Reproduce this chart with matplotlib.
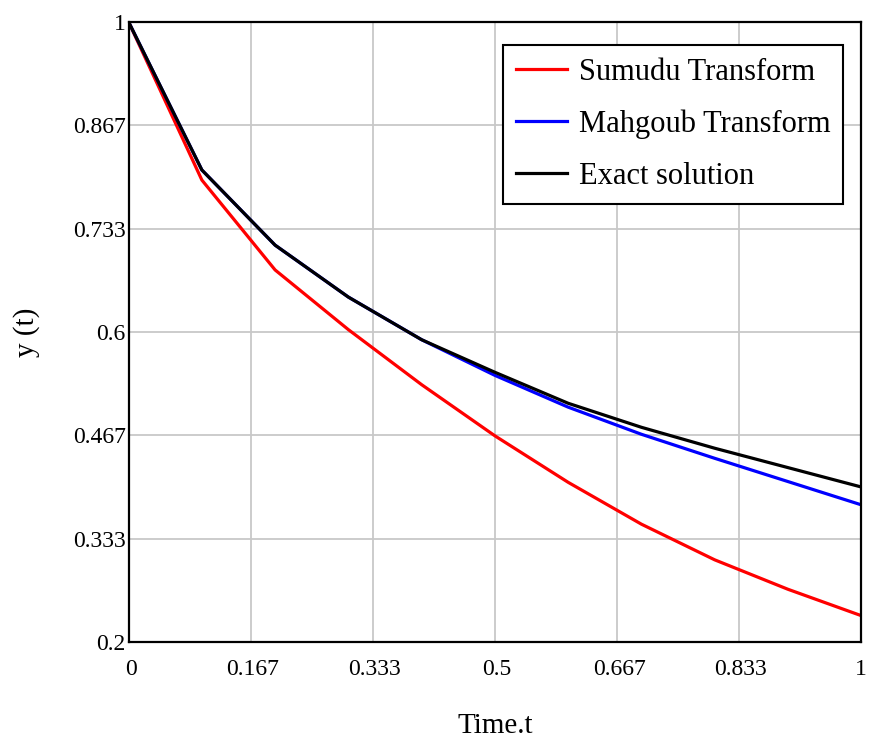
import numpy as np
import matplotlib
matplotlib.use("Agg")
from matplotlib import pyplot as plt
import matplotlib.transforms as mtransforms

#-----------------------------------------------------------------------------------#
## data
t = [0.0, 0.1, 0.2, 0.3, 0.4, 0.5, 0.6, 0.7, 0.8, 0.9, 1.0]

y_sumudu = [1.0, 0.796, 0.680, 0.603, 0.532, 0.466, 0.406, 0.352, 0.306, 0.268, 0.234]
y_mahgoub = [1.0, 0.809, 0.712, 0.645, 0.590, 0.544, 0.503, 0.468, 0.437, 0.407, 0.377]
y_exact = [1.0, 0.809, 0.712, 0.645, 0.590, 0.548, 0.508, 0.477, 0.450, 0.425, 0.400]

xticks = [0, 0.167, 0.333, 0.5, 0.667, 0.833, 1]
xtick_labels = ["0", "0.167", "0.333", "0.5", "0.667", "0.833", "1"]
yticks = [0.2, 0.333, 0.467, 0.6, 0.733, 0.867, 1]
ytick_labels = ["0.2", "0.333", "0.467", "0.6", "0.733", "0.867", "1"]

#-----------------------------------------------------------------------------------#
## plot
plt.rcParams["font.family"] = ["Liberation Serif", "DejaVu Serif"]

fig = plt.figure(figsize=(8.69, 7.47), dpi=100)
ax = fig.add_axes([0.148, 0.1406, 0.843, 0.83])

ax.plot(t, y_sumudu, color="red", lw=2.3, label="Sumudu Transform")
ax.plot(t, y_mahgoub, color="blue", lw=2.3, label="Mahgoub Transform")
ax.plot(t, y_exact, color="black", lw=2.3, label="Exact solution")

ax.set_xlim(0, 1)
ax.set_ylim(0.2, 1)
ax.set_xticks(xticks)
ax.set_xticklabels(xtick_labels)
ax.set_yticks(yticks)
ax.set_yticklabels(ytick_labels)
ax.tick_params(length=0, labelsize=17)
ax.tick_params(axis="x", pad=12)
ax.tick_params(axis="y", pad=2)
# labels sit a little right of the grid lines in the original
shift = mtransforms.ScaledTranslation(2 / 100, 0, fig.dpi_scale_trans)
for lab in ax.get_xticklabels()[:-1]:
    lab.set_transform(lab.get_transform() + shift)

ax.grid(True, color="#c8c8c8", lw=1.3)
ax.set_axisbelow(True)
for s in ax.spines.values():
    s.set_linewidth(1.6)
    s.set_color("black")

ax.set_xlabel("Time.t", fontsize=21, labelpad=24)
ax.set_ylabel("y (t)", fontsize=21, labelpad=24)

leg = ax.legend(loc="upper right", bbox_to_anchor=(0.9754, 0.963),
                borderaxespad=0, fontsize=22, handlelength=1.67,
                handletextpad=0.39, borderpad=0.42, labelspacing=0.75,
                fancybox=False, framealpha=1, edgecolor="black")
leg.get_frame().set_linewidth(1.5)

fig.savefig("out.png", dpi=100)
